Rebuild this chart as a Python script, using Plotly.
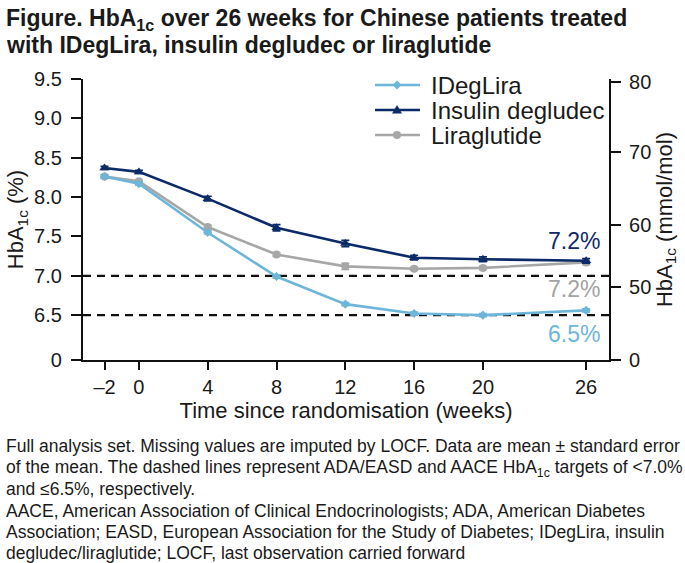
import plotly.graph_objects as go

# ---------------- data ----------------
weeks = [-2, 0, 4, 8, 12, 16, 20, 26]
week_labels = ["–2", "0", "4", "8", "12", "16", "20", "26"]

ideglira = [8.26, 8.17, 7.55, 6.99, 6.64, 6.52, 6.50, 6.56]
ideglira_se = [0.02, 0.02, 0.02, 0.02, 0.02, 0.02, 0.02, 0.02]

degludec = [8.37, 8.32, 7.98, 7.61, 7.41, 7.23, 7.21, 7.19]
degludec_se = [0.02, 0.02, 0.03, 0.04, 0.04, 0.03, 0.03, 0.03]

liraglutide = [8.26, 8.20, 7.62, 7.27, 7.12, 7.09, 7.10, 7.17]
liraglutide_se = [0.02, 0.02, 0.02, 0.02, 0.04, 0.02, 0.02, 0.03]

# left axis (HbA1c %) with broken axis: "0" label sits just below 6.5
left_tick_vals = [5.93, 6.5, 7.0, 7.5, 8.0, 8.5, 9.0, 9.5]
left_tick_text = ["0", "6.5", "7.0", "7.5", "8.0", "8.5", "9.0", "9.5"]

# right axis (mmol/mol) labels and their % equivalents on the chart
right_tick_text = ["0", "50", "60", "70", "80"]
right_tick_pct = [5.93, 6.86, 7.65, 8.57, 9.46]

targets = [7.0, 6.5]
end_labels = ["7.2%", "7.2%", "6.5%"]

# ---------------- style ----------------
C_IDL = "#6db6d9"
C_DEG = "#0b2a68"
C_LIR = "#a7a7a7"
C_LIR_TXT = "#a3a3a3"
TXT = "#1a1a1a"
FONT = "Liberation Sans, Arial, Helvetica, sans-serif"

W, H = 685, 563
L, R, T, B = 83, 609, 79, 360


def px(x):
    return (x - L) / (R - L)


def py(y):
    return (B - y) / (B - T)


fig = go.Figure()

series = [
    ("IDegLira", ideglira, ideglira_se, C_IDL, "diamond", 7),
    ("Insulin degludec", degludec, degludec_se, C_DEG, "triangle-up", 9),
    ("Liraglutide", liraglutide, liraglutide_se, C_LIR, "circle", 8),
]
# draw order: liraglutide under, then IDegLira, degludec on top
for name, vals, se, col, sym, size in [series[2], series[0], series[1]]:
    fig.add_trace(go.Scatter(
        x=weeks, y=vals, name=name, mode="lines+markers",
        line=dict(color=col, width=2.6),
        marker=dict(color=col, symbol=sym, size=size),
        error_y=dict(type="data", array=se, visible=True, color=col,
                     thickness=1.6, width=4),
        showlegend=False,
    ))

# invisible trace for right axis
fig.add_trace(go.Scatter(x=[weeks[0]], y=[ideglira[0]], yaxis="y2",
                         mode="markers", marker=dict(opacity=0),
                         showlegend=False, hoverinfo="skip"))

for t in targets:
    fig.add_shape(type="line", xref="paper", x0=0, x1=1, yref="y", y0=t, y1=t,
                  line=dict(color="#111111", width=2.2, dash="8px,6px"),
                  layer="below")

# manual legend (to match the tight row spacing)
marker_paths = {
    "diamond": "M -4.5,0 L 0,4.5 L 4.5,0 L 0,-4.5 Z",
    "triangle-up": "M -5,-3.5 L 5,-3.5 L 0,5 Z",
}
for i, (name, vals, se, col, sym, size) in enumerate(series):
    cy = 85 + 25 * i
    fig.add_shape(type="line", xref="paper", yref="paper",
                  x0=px(375), x1=px(420), y0=py(cy), y1=py(cy),
                  line=dict(color=col, width=2.6))
    if sym == "circle":
        fig.add_shape(type="circle", xref="paper", yref="paper",
                      xsizemode="pixel", ysizemode="pixel",
                      xanchor=px(397), yanchor=py(cy),
                      x0=-4, x1=4, y0=-4, y1=4,
                      fillcolor=col, line=dict(color=col, width=0))
    else:
        fig.add_shape(type="path", xref="paper", yref="paper",
                      xsizemode="pixel", ysizemode="pixel",
                      xanchor=px(397), yanchor=py(cy),
                      path=marker_paths[sym],
                      fillcolor=col, line=dict(color=col, width=0))
    fig.add_annotation(xref="paper", yref="paper", x=px(429), y=py(cy),
                       text=name, showarrow=False, xanchor="left", yanchor="middle",
                       font=dict(family=FONT, size=24, color=TXT))

# end labels
fig.add_annotation(x=weeks[-1], y=degludec[-1], text=end_labels[0],
                   showarrow=False, xanchor="center", yanchor="middle",
                   xshift=-12, yshift=20, font=dict(family=FONT, size=23, color=C_DEG))
fig.add_annotation(x=weeks[-1], y=liraglutide[-1], text=end_labels[1],
                   showarrow=False, xanchor="center", yanchor="middle",
                   xshift=-12, yshift=-27, font=dict(family=FONT, size=23, color=C_LIR_TXT))
fig.add_annotation(x=weeks[-1], y=ideglira[-1], text=end_labels[2],
                   showarrow=False, xanchor="center", yanchor="middle",
                   xshift=-12, yshift=-24, font=dict(family=FONT, size=23, color=C_IDL))

# title
title_lines = [
    "Figure. HbA<sub>1c</sub> over 26 weeks for Chinese patients treated",
    "with IDegLira, insulin degludec or liraglutide",
]
for i, line in enumerate(title_lines):
    fig.add_annotation(xref="paper", yref="paper", x=px(4), y=py(19 + 26 * i),
                       text="<b>" + line + "</b>", showarrow=False,
                       xanchor="left", yanchor="middle",
                       font=dict(family=FONT, size=23, color=TXT))

# footnotes
foot_lines = [
    "Full analysis set. Missing values are imputed by LOCF. Data are mean ± standard error",
    "of the mean. The dashed lines represent ADA/EASD and AACE HbA<sub>1c</sub> targets of <7.0%",
    "and ≤6.5%, respectively.",
    "AACE, American Association of Clinical Endocrinologists; ADA, American Diabetes",
    "Association; EASD, European Association for the Study of Diabetes; IDegLira, insulin",
    "degludec/liraglutide; LOCF, last observation carried forward",
]
foot_y = [446, 468, 489, 511, 532, 553]
for line, yy in zip(foot_lines, foot_y):
    fig.add_annotation(xref="paper", yref="paper", x=px(4), y=py(yy),
                       text=line, showarrow=False, xanchor="left", yanchor="middle",
                       font=dict(family=FONT, size=17.5, color=TXT))

tick_font = dict(family=FONT, size=20, color=TXT)
title_font = dict(family=FONT, size=22, color=TXT)

fig.update_layout(
    width=W, height=H,
    margin=dict(l=L, r=W - R, t=T, b=H - B, pad=0),
    paper_bgcolor="white", plot_bgcolor="white",
    font=tick_font,
    showlegend=False,
    xaxis=dict(range=[-3.25, 27.33], tickvals=weeks, ticktext=week_labels,
               showgrid=False, zeroline=False, showline=True, linecolor="#111111",
               linewidth=2.2, ticks="outside", ticklen=8, tickwidth=2.2,
               tickcolor="#111111", tickfont=tick_font,
               title=dict(text="Time since randomisation (weeks)", font=title_font, standoff=0)),
    yaxis=dict(range=[5.93, 9.5], tickvals=left_tick_vals, ticktext=left_tick_text,
               showgrid=False, zeroline=False, showline=True, linecolor="#111111",
               linewidth=2.2, ticks="outside", ticklen=10, tickwidth=2.2,
               tickcolor="#111111", tickfont=tick_font, ticklabelstandoff=5,
               title=dict(text="HbA<sub>1c</sub> (%)", font=title_font, standoff=4)),
    yaxis2=dict(range=[5.93, 9.5], overlaying="y", side="right",
                tickvals=right_tick_pct, ticktext=right_tick_text,
                showgrid=False, zeroline=False, showline=True, linecolor="#111111",
                linewidth=2.2, ticks="outside", ticklen=10, tickwidth=2.2,
                tickcolor="#111111", tickfont=tick_font, ticklabelstandoff=4,
                title=dict(text="HbA<sub>1c</sub> (mmol/mol)", font=title_font, standoff=6)),
)

fig.write_html("out.html", config={"displayModeBar": False},
               post_script="document.body.style.margin='0';")
